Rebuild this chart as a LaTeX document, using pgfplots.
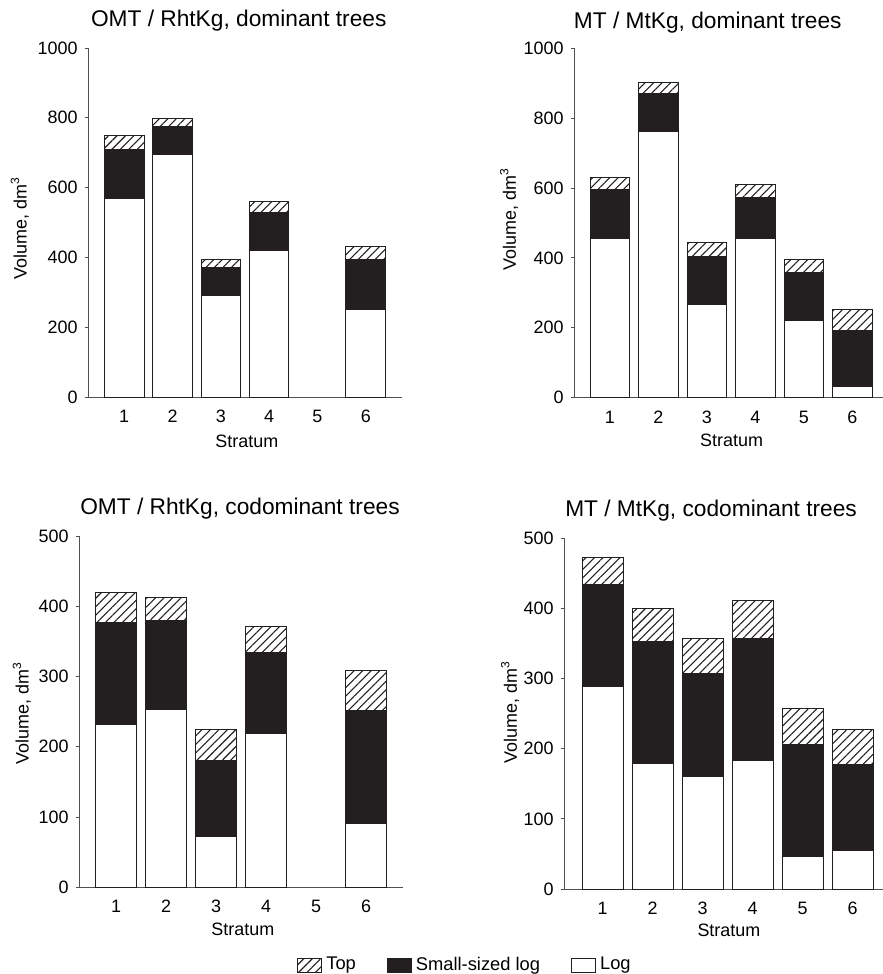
\documentclass[border=0pt]{standalone}
\usepackage{fontspec}
\setmainfont{Liberation Sans}
\usepackage{pgfplots}
\usepackage{pgfplotstable}
\pgfplotsset{compat=1.18}
\usetikzlibrary{patterns.meta}

\definecolor{ink}{RGB}{35,31,32}
\definecolor{axgray}{RGB}{80,80,80}

% stratum, log, small-sized log, top (stacked increments, dm3)
\pgfplotstableread{
x log small top
1 568 140 42
2 694 82 21
3 291 80 22
4 421 107 31
6 250 143 37
}\omtdom
\pgfplotstableread{
x log small top
1 457 138 35
2 762 109 30
3 268 136 40
4 457 116 37
5 221 137 38
6 33 159 60
}\mtdom
\pgfplotstableread{
x log small top
1 232 145 42
2 253 127 33
3 73 107 45
4 219 115 37
6 91 160 57
}\omtcod
\pgfplotstableread{
x log small top
1 289 145 39
2 179 174 47
3 161 146 50
4 183 174 55
5 47 159 52
6 55 123 49
}\mtcod

\pgfplotsset{
  panel/.style={
    scale only axis, anchor=south west,
    axis x line*=bottom, axis y line*=left,
    axis line style={draw=axgray, line width=0.5bp},
    ybar stacked, bar width=0.82,
    ymin=0, xtick={1,...,6},
    x tick style={draw=none},
    y tick style={draw=axgray, line width=0.5bp},
    tick align=outside, major tick length=1.7bp,
    /pgf/number format/assume math mode=true,
    /pgf/number format/1000 sep={},
    tick label style={font=\fontsize{9}{10}\selectfont},
    x tick label style={anchor=base, yshift=-11bp},
    label style={font=\fontsize{9}{10}\selectfont},
    title style={font=\fontsize{11.4}{13}\selectfont, anchor=base},
    xlabel={Stratum}, ylabel={Volume, dm\textsuperscript{3}},
    clip=false,
  },
  logbar/.style={fill=white, draw=ink, line width=0.5bp},
  smallbar/.style={fill=ink, draw=ink, line width=0.5bp},
  topbar/.style={fill=white, draw=ink, line width=0.5bp,
    postaction={pattern={Lines[angle=45, distance=3bp, line width=0.55bp]}, pattern color=ink}},
}

\begin{document}
\begin{tikzpicture}
\useasboundingbox (0,0) rectangle (441.5bp,-487bp);

\begin{axis}[panel, at={(44bp,-198.5bp)}, width=157bp, height=174.5bp,
  xmin=0.25, xmax=6.75, ymax=1000, ytick={0,200,...,1000},
  title={OMT / RhtKg, dominant trees},
  title style={at={(axis description cs:0.48,1)}, yshift=4.85bp},
  xlabel style={at={(axis description cs:0.506,0)}, anchor=base, yshift=-25bp},
  ylabel style={at={(axis description cs:-0.217,0.484)}, anchor=center}]
\addplot[logbar] table[y=log]{\omtdom};
\addplot[smallbar] table[y=small]{\omtdom};
\addplot[topbar] table[y=top]{\omtdom};
\end{axis}

\begin{axis}[panel, at={(287bp,-198.85bp)}, width=154.5bp, height=174.7bp,
  xmin=0.26, xmax=6.63, ymax=1000, ytick={0,200,...,1000},
  title={MT / MtKg, dominant trees},
  title style={at={(axis description cs:0.433,1)}, yshift=4.15bp},
  xlabel style={at={(axis description cs:0.51,0)}, anchor=base, yshift=-24.5bp},
  ylabel style={at={(axis description cs:-0.21,0.51)}, anchor=center}]
\addplot[logbar] table[y=log]{\mtdom};
\addplot[smallbar] table[y=small]{\mtdom};
\addplot[topbar] table[y=top]{\mtdom};
\end{axis}

\begin{axis}[panel, at={(39.5bp,-443.65bp)}, width=162.25bp, height=175.65bp,
  xmin=0.26, xmax=6.75, ymax=500, ytick={0,100,...,500},
  title={OMT / RhtKg, codominant trees},
  title style={at={(axis description cs:0.496,1)}, yshift=5bp},
  xlabel style={at={(axis description cs:0.505,0)}, anchor=base, yshift=-24bp},
  ylabel style={at={(axis description cs:-0.176,0.496)}, anchor=center}]
\addplot[logbar] table[y=log]{\omtcod};
\addplot[smallbar] table[y=small]{\omtcod};
\addplot[topbar] table[y=top]{\omtcod};
\end{axis}

\begin{axis}[panel, at={(282bp,-444.5bp)}, width=159.5bp, height=175.35bp,
  xmin=0.23, xmax=6.61, ymax=500, ytick={0,100,...,500},
  title={MT / MtKg, codominant trees},
  title style={at={(axis description cs:0.461,1)}, yshift=5.15bp},
  xlabel style={at={(axis description cs:0.517,0)}, anchor=base, yshift=-23.5bp},
  ylabel style={at={(axis description cs:-0.169,0.505)}, anchor=center}]
\addplot[logbar] table[y=log]{\mtcod};
\addplot[smallbar] table[y=small]{\mtcod};
\addplot[topbar] table[y=top]{\mtcod};
\end{axis}

% shared legend
\begin{axis}[hide axis, scale only axis, width=1bp, height=1bp,
  at={(233bp,-482.5bp)}, anchor=center, xmin=0, xmax=1, ymin=0, ymax=1,
  legend columns=3,
  legend style={at={(0.5,0.5)}, anchor=center, draw=none, fill=none,
    font=\fontsize{9.2}{10}\selectfont, inner sep=0pt,
    /tikz/every even column/.append style={column sep=13.5bp}},
  legend image code/.code={\draw[#1] (0bp,-3.5bp) rectangle (12bp,3.5bp);}]
\addlegendimage{topbar}
\addlegendentry{Top}
\addlegendimage{smallbar}
\addlegendentry{Small-sized log}
\addlegendimage{logbar}
\addlegendentry{Log}
\end{axis}
\end{tikzpicture}
\end{document}
